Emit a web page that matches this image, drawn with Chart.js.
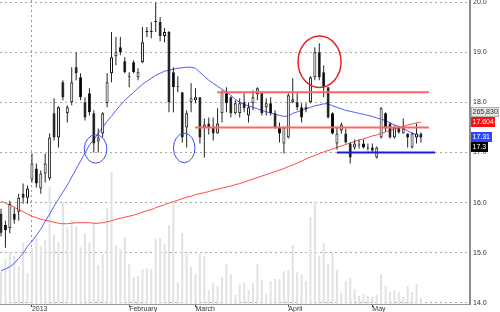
<!DOCTYPE html>
<html><head><meta charset="utf-8">
<script src="https://cdn.jsdelivr.net/npm/chart.js@4.4.1/dist/chart.umd.min.js"></script>
<style>html,body{margin:0;padding:0;background:#fff}canvas{display:block}</style>
</head><body>
<canvas id="c" width="500" height="312"></canvas>
<script>
// ---- data ----
const opens = [15.78,15.56,15.49,15.78,15.82,16.18,16.10,16.46,16.68,16.28,
 16.58,16.48,17.78,17.30,18.40,17.78,18.00,18.70,18.50,18.00,
 18.18,17.78,17.22,17.38,17.98,18.58,18.92,19.10,18.82,18.52,
 18.80,18.50,18.80,19.40,19.42,19.60,19.60,19.32,19.40,18.60,
 18.30,18.20,17.50,18.00,18.04,18.10,17.50,17.58,17.52,17.38,
 17.78,18.18,18.10,17.78,17.78,18.00,17.74,17.98,18.16,18.18,
 17.90,17.98,17.78,17.50,17.18,17.30,18.00,18.00,17.90,17.86,
 18.00,18.50,19.00,18.60,18.30,17.78,17.18,17.44,17.38,17.18,
 17.10,17.14,17.18,17.10,17.10,16.90,17.30,17.78,17.58,17.30,
 17.50,17.38,17.38,17.10,17.30,17.38];
const highs = [15.88,15.64,16.04,15.90,16.18,16.38,16.34,16.98,16.78,16.64,
 16.98,17.38,18.08,17.92,18.44,17.94,18.70,19.00,18.58,18.10,
 18.28,17.84,17.48,17.80,18.58,19.40,19.30,19.30,18.90,18.60,
 18.84,18.68,19.50,19.50,19.60,19.99,19.70,19.48,19.42,18.70,
 18.52,18.20,17.84,18.38,18.28,18.10,17.68,17.70,17.70,17.88,
 18.24,18.30,18.12,18.04,18.08,18.18,18.00,18.24,18.30,18.20,
 18.08,18.10,17.84,17.60,17.52,18.18,18.48,18.18,17.98,17.98,
 18.52,19.10,19.18,18.74,18.30,17.80,17.50,17.60,17.48,17.20,
 17.26,17.26,17.26,17.18,17.18,17.12,17.90,17.80,17.60,17.54,
 17.52,17.68,17.38,17.40,17.58,17.40];
const lows = [15.33,15.10,15.39,15.58,15.64,15.98,15.98,16.40,16.30,16.18,
 16.40,16.44,17.24,17.10,18.04,17.60,17.94,18.44,18.04,17.64,
 17.74,17.00,17.00,17.30,17.90,18.40,18.74,18.94,18.58,18.30,
 18.58,18.44,18.78,19.30,19.28,19.40,19.22,19.20,17.80,17.80,
 18.20,17.20,17.10,17.80,17.98,17.18,16.90,17.36,17.24,17.38,
 17.60,17.80,17.70,17.76,17.70,17.80,17.60,17.84,18.04,17.74,
 17.74,17.74,17.48,17.20,16.98,17.28,17.98,17.84,17.60,17.80,
 17.98,18.44,18.44,18.10,17.68,17.36,17.06,17.38,17.18,16.78,
 17.06,17.08,17.08,17.04,17.00,16.88,17.28,17.42,17.28,17.28,
 17.38,17.38,17.10,17.08,17.18,17.20];
const closes = [15.40,15.45,15.98,15.66,16.10,16.10,16.28,16.78,16.38,16.58,
 16.78,17.30,17.30,17.90,18.10,17.90,18.40,18.58,18.10,17.70,
 17.80,17.18,17.30,17.78,18.40,18.90,19.00,19.00,18.60,18.50,
 18.60,18.60,19.20,19.42,19.40,19.62,19.32,19.40,18.00,18.30,
 18.31,17.30,17.78,18.08,18.10,17.30,17.56,17.50,17.38,17.58,
 18.20,17.98,17.78,17.98,17.98,17.88,17.90,18.10,18.28,17.78,
 17.98,17.78,17.50,17.38,17.50,18.14,18.06,17.90,17.70,17.90,
 18.50,19.00,18.50,18.30,17.70,17.38,17.38,17.56,17.20,16.90,
 17.18,17.16,17.10,17.08,17.04,17.10,17.88,17.48,17.30,17.50,
 17.40,17.48,17.30,17.38,17.38,17.30];
// volume in thousands of shares
const volumes = [1418,1994,2304,2126,1683,2702,1373,2481,2924,2569,
 2835,5183,3101,2747,4519,3411,3721,3455,2525,3145,
 2702,3633,1728,2215,4253,5848,2614,2437,2968,1772,
 1196,1240,1551,1595,1551,2880,2924,2658,3500,4519,
 975,3145,2215,1639,1329,2215,2126,620,930,797,
 1196,1772,1329,399,886,930,620,930,1772,1063,
 443,1019,1108,1108,1462,1506,2614,1418,1329,1019,
 3854,4519,2126,2702,1772,2259,1506,487,1019,1152,
 665,354,443,354,310,399,1329,797,532,620,
 532,310,797,532,886,265.83];
const maFast = [14.64,14.68,14.72,14.79,14.89,14.99,15.13,15.23,15.35,15.47,
 15.63,15.77,15.93,16.07,16.21,16.35,16.51,16.67,16.83,16.99,
 17.15,17.26,17.38,17.50,17.62,17.72,17.84,17.94,18.04,18.12,
 18.20,18.28,18.36,18.42,18.48,18.54,18.58,18.62,18.64,18.66,
 18.68,18.69,18.70,18.70,18.68,18.60,18.52,18.44,18.38,18.32,
 18.26,18.20,18.14,18.06,18.00,17.96,17.93,17.90,17.87,17.84,
 17.81,17.79,17.76,17.74,17.72,17.73,17.78,17.81,17.84,17.87,
 17.90,17.93,17.95,17.97,17.97,17.93,17.90,17.87,17.84,17.82,
 17.80,17.78,17.76,17.74,17.72,17.69,17.66,17.64,17.59,17.55,
 17.52,17.48,17.43,17.39,17.35,17.31];
const maSlow = [16.03,15.99,15.95,15.91,15.86,15.82,15.77,15.73,15.70,15.67,
 15.65,15.63,15.61,15.59,15.58,15.58,15.59,15.60,15.60,15.60,
 15.60,15.59,15.59,15.60,15.62,15.64,15.67,15.69,15.71,15.73,
 15.75,15.78,15.81,15.84,15.86,15.90,15.93,15.96,15.99,16.02,
 16.05,16.08,16.11,16.13,16.16,16.18,16.20,16.22,16.25,16.27,
 16.29,16.31,16.33,16.36,16.38,16.41,16.44,16.47,16.50,16.53,
 16.56,16.59,16.62,16.65,16.68,16.72,16.75,16.79,16.83,16.87,
 16.91,16.94,16.98,17.01,17.04,17.07,17.10,17.13,17.16,17.19,
 17.22,17.25,17.27,17.30,17.33,17.35,17.38,17.41,17.44,17.47,
 17.49,17.52,17.55,17.57,17.59,17.604];
const xTickIndex = [7, 29, 44, 65, 84];
const xTickText = ['2013', 'February', 'March', 'April', 'May'];
const priceTicks = [14, 15, 16, 17, 18, 19, 20];
// drawn levels: price, first and last bar index
const upperLevel = {price: 18.2, from: 48.9, to: 96.8};
const lowerLevel = {price: 17.5, from: 43.9, to: 96.8};
const supportLevel = {price: 17.0, from: 76.0, to: 98.2};
// highlighted areas: centre (bar index, price) and half extents
const ringMarks = [
  {index: 21.4, price: 17.07, halfSpan: 2.56, halfRange: 0.283, color: '#3b4cf0', width: 1},
  {index: 41.45, price: 17.09, halfSpan: 2.44, halfRange: 0.293, color: '#3b4cf0', width: 1},
  {index: 72.06, price: 18.81, halfSpan: 4.86, halfRange: 0.514, color: '#e82222', width: 1.5}
];

// ---- chart ----
const FONT = '"Liberation Sans", Arial, sans-serif';
Chart.defaults.font.family = FONT;
Chart.defaults.font.size = 7;
const idx = closes.map((_, i) => i);
const last = closes.length - 1;
const levelLine = (lv, color) => ({
  type: 'line', data: [{x: lv.from, y: lv.price}, {x: lv.to, y: lv.price}],
  borderColor: color, borderWidth: 2, pointRadius: 0, order: 0
});

const rings = {
  id: 'rings',
  afterDatasetsDraw(chart) {
    const {ctx, scales: {x, y}} = chart;
    ctx.save();
    ringMarks.forEach(r => {
      const cx = x.getPixelForValue(r.index), cy = y.getPixelForValue(r.price);
      const rx = Math.abs(x.getPixelForValue(r.index + r.halfSpan) - cx);
      const ry = Math.abs(y.getPixelForValue(r.price + r.halfRange) - cy);
      ctx.beginPath();
      ctx.ellipse(cx, cy, rx, ry, 0, 0, Math.PI * 2);
      ctx.strokeStyle = r.color; ctx.lineWidth = r.width; ctx.stroke();
    });
    ctx.restore();
  }
};

const sideTags = {
  id: 'sideTags',
  afterDraw(chart) {
    const {ctx, chartArea, scales: {y}} = chart;
    const h = 10;
    ctx.save();
    ctx.font = '7px ' + FONT;
    ctx.textBaseline = 'middle';
    const tag = (text, cy, bg, fg, border) => {
      const w = Math.round(ctx.measureText(text).width) + 3;
      const x = chartArea.right + 1;
      const top = Math.round(cy - h / 2);
      ctx.fillStyle = bg; ctx.fillRect(x, top, w, h);
      if (border) { ctx.strokeStyle = border; ctx.lineWidth = 1; ctx.strokeRect(x + 0.5, top + 0.5, w - 1, h - 1); }
      ctx.fillStyle = fg; ctx.fillText(text, x + 1.5, top + h / 2 + 0.5);
    };
    const redY = y.getPixelForValue(maSlow[last]);
    const blueY = y.getPixelForValue(maFast[last]);
    let blackY = y.getPixelForValue(closes[last]);
    if (blackY < blueY + h) blackY = blueY + h;
    const volText = Math.round(volumes[last] * 1000).toLocaleString('en-US');
    tag(volText, redY - h, '#e4e4e4', '#333', '#b0b0b0');
    tag(String(maSlow[last]), redY, '#ff1010', '#fff');
    tag(String(maFast[last]), blueY, '#2b48ff', '#fff');
    tag(String(closes[last]), blackY, '#000', '#fff');
    ctx.restore();
  }
};

new Chart(document.getElementById('c'), {
  data: {
    datasets: [
      levelLine(upperLevel, '#ff6464'),
      levelLine(lowerLevel, '#ff6464'),
      levelLine(supportLevel, '#1020e0'),
      {
        type: 'bar', label: 'Body',
        data: idx.map(i => ({x: i, y: [opens[i], closes[i]]})),
        backgroundColor: c => closes[c.dataIndex] >= opens[c.dataIndex] ? '#ffffff' : '#000000',
        borderColor: '#111', borderWidth: 1, borderSkipped: false, inflateAmount: 0,
        barThickness: 3, minBarLength: 1, grouped: false, order: 1
      },
      {
        type: 'bar', label: 'Wick',
        data: idx.map(i => ({x: i, y: [lows[i], highs[i]]})),
        backgroundColor: '#222', borderWidth: 0, inflateAmount: 0,
        barThickness: 1, grouped: false, order: 2
      },
      {
        type: 'line', label: 'MA fast', data: idx.map(i => ({x: i, y: maFast[i]})),
        borderColor: '#4f5cff', borderWidth: 1, pointRadius: 0, order: 3
      },
      {
        type: 'line', label: 'MA slow', data: idx.map(i => ({x: i, y: maSlow[i]})),
        borderColor: '#ff4848', borderWidth: 1, pointRadius: 0, order: 3
      },
      {
        type: 'bar', label: 'Volume', yAxisID: 'yv',
        data: idx.map(i => ({x: i, y: volumes[i]})),
        backgroundColor: '#e2e2e2', borderWidth: 0, inflateAmount: 0,
        barThickness: 2, grouped: false, order: 5
      }
    ]
  },
  options: {
    responsive: false, animation: false, devicePixelRatio: 1,
    layout: {padding: 0},
    plugins: {legend: {display: false}, tooltip: {enabled: false}},
    scales: {
      x: {
        type: 'linear', position: 'bottom', min: -0.226, max: 106.1, offset: false,
        afterBuildTicks: s => { s.ticks = xTickIndex.map(v => ({value: v})); },
        afterFit: s => { s.height = 8; s.paddingLeft = 0; s.paddingRight = 0; },
        ticks: {
          autoSkip: false, maxRotation: 0, minRotation: 0, align: 'start', padding: -2,
          color: '#333', font: {size: 7},
          callback: v => xTickText[xTickIndex.indexOf(v)]
        },
        grid: {
          offset: false,
          color: c => (c.tick && c.tick.value === xTickIndex[0]) ? '#999999' : 'rgba(0,0,0,0)',
          tickColor: '#444', tickLength: 3, drawTicks: true
        },
        border: {display: true, color: '#999', width: 1, dash: [2, 3]}
      },
      y: {
        type: 'linear', position: 'right', min: 13.98, max: 20.04,
        afterBuildTicks: s => { s.ticks = priceTicks.map(v => ({value: v})); },
        afterFit: s => { s.width = 30; s.paddingTop = 0; s.paddingBottom = 0; },
        ticks: {padding: 3, color: '#333', font: {size: 7}, callback: v => v.toFixed(1)},
        grid: {color: '#a8a8a8', drawTicks: false},
        border: {display: true, color: '#8c8c8c', width: 2, dash: [2, 3]}
      },
      yv: {type: 'linear', display: false, min: 0, max: 13467}
    }
  },
  plugins: [rings, sideTags]
});
</script>
</body></html>
